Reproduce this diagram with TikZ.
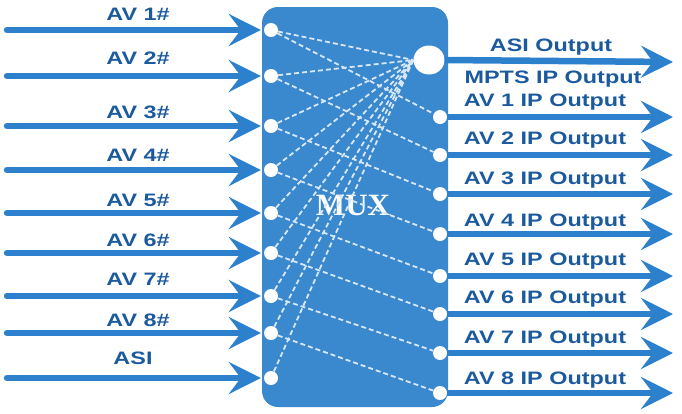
\documentclass[tikz,border=0pt]{standalone}
\usepackage{fontspec}
\setmainfont{Liberation Sans}
\newfontfamily\lblfont[FakeStretch=1.3]{Liberation Sans}
\newfontfamily\muxfont{Liberation Serif}
\usetikzlibrary{arrows.meta,shapes.geometric}
\definecolor{muxblue}{RGB}{58,136,206}
\definecolor{feedblue}{RGB}{44,128,204}
\definecolor{txtblue}{RGB}{28,90,158}
\tikzset{
  port/.style={circle,fill=white,inner sep=0pt,minimum size=14pt},
  feed/.style={line width=6.5pt,feedblue,line cap=round,-{Stealth[length=32pt,width=32pt,inset=12pt]}},
  link/.style={white!80!muxblue,dash pattern=on 5pt off 3pt,line width=1.8pt},
  sig/.style={font=\lblfont\bfseries\fontsize{18}{20}\selectfont,text=txtblue,text height=13pt,text depth=0pt,inner sep=0pt}
}
\begin{document}
\begin{tikzpicture}[x=1pt,y=-1pt]
  \useasboundingbox (0,0) rectangle (682,413);
  \node[fill=muxblue,rounded corners=16pt,minimum width=186pt,minimum height=400pt,inner sep=0pt] (mux) at (355,207) {};
  \node[font=\muxfont\bfseries\fontsize{31}{33}\selectfont,text=white] (muxlbl) at (353,205) {MUX};
  % outputs
  \node[port,ellipse,minimum width=31pt,minimum height=29pt] (asio) at (429,60) {};
  \coordinate (dst0) at (673,62);
  \draw[feed,line cap=butt] (asio.east) -- (dst0);
  \node[sig] (asilbl) at (551,45) {ASI Output};
  \node[sig] (mptslbl) at (553,77) {MPTS IP Output};
  \foreach \i/\y/\ly in {1/117/100, 2/155/138, 3/194/178, 4/234/220, 5/276/259, 6/314/297, 7/353/337, 8/393/378} {
    \node[port] (out\i) at (440,\y) {};
    \coordinate (dst\i) at (673,\y);
    \draw[feed,line cap=butt] (out\i.east) -- (dst\i);
    \node[sig] (olbl\i) at (545,\ly) {AV \i\ IP Output};
  }
  % inputs
  \foreach \i/\y/\ly in {1/30/14, 2/76/58, 3/126/112, 4/170/155, 5/213/200, 6/253/240, 7/296/279, 8/333/320} {
    \node[port] (in\i) at (271,\y) {};
    \coordinate (src\i) at (7,\y);
    \draw[feed,shorten >=3pt] (src\i) -- (in\i.west);
    \node[sig] (ilbl\i) at (138,\ly) {AV \i\#};
    \draw[link] (in\i) -- (asio.west);
    \draw[link] (in\i) -- (out\i);
  }
  \node[port] (in9) at (271,378) {};
  \coordinate (src9) at (7,378);
  \draw[feed,shorten >=3pt] (src9) -- (in9.west);
  \node[sig] (ilbl9) at (133,358) {ASI};
  \draw[link] (in9) -- (asio.west);
\end{tikzpicture}
\end{document}
